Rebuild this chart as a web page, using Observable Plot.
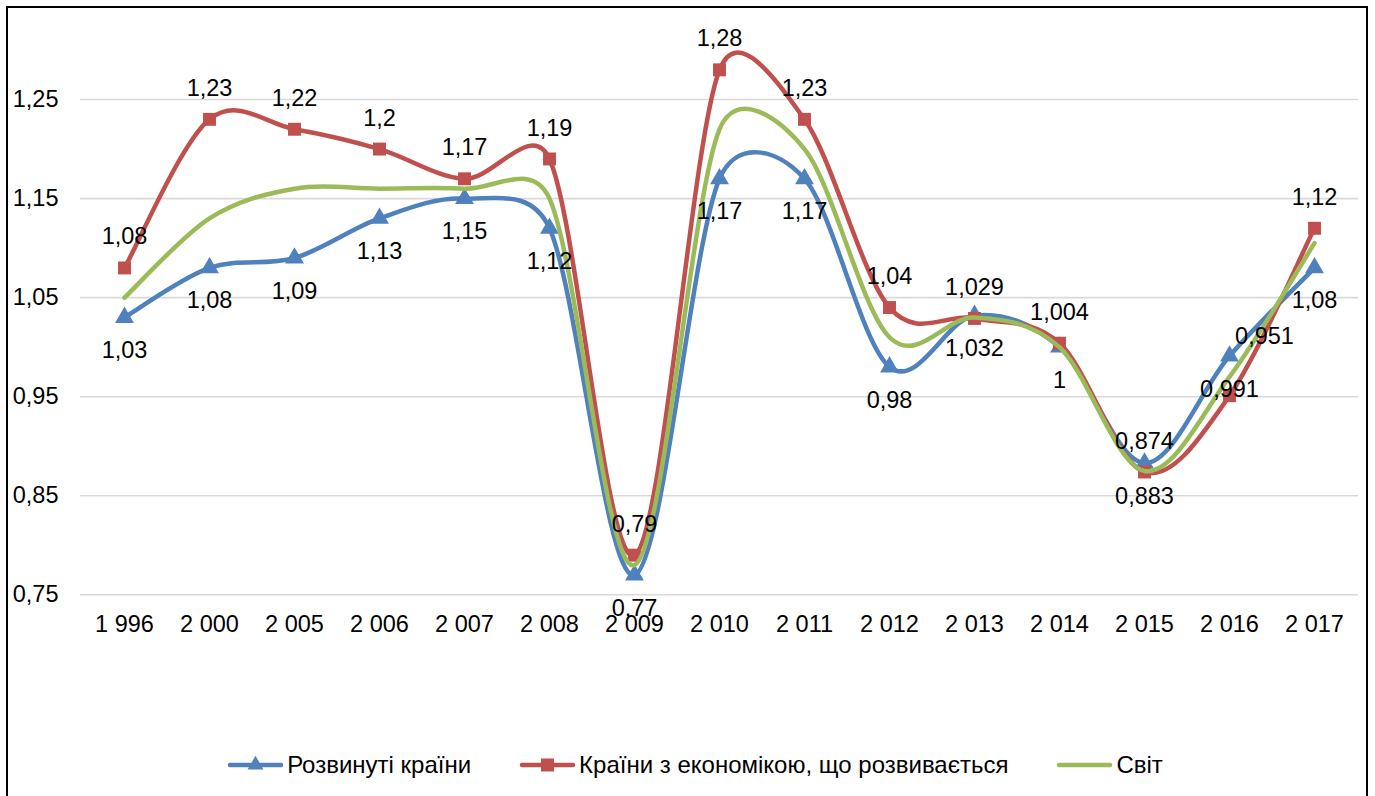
<!DOCTYPE html>
<html><head><meta charset="utf-8">
<script src="https://cdn.jsdelivr.net/npm/d3@7"></script>
<script src="https://cdn.jsdelivr.net/npm/@observablehq/plot@0.6"></script>
<style>
body{margin:0;background:#fff;font-family:"Liberation Sans",Arial,sans-serif;}
#frame{position:absolute;left:6px;top:6px;width:1358px;height:800px;border:2px solid #000;background:#fff;overflow:hidden;}
#legend{display:flex;justify-content:center;align-items:center;height:74px;font-size:24px;color:#000;padding-left:16px;}
.item{display:flex;align-items:center;margin:0 24px;}
.item svg{margin-right:3px;}
</style></head>
<body><div id="frame"><div id="chart"></div><div id="legend"></div></div>
<script>
const categories = ["1 996","2 000","2 005","2 006","2 007","2 008","2 009","2 010","2 011","2 012","2 013","2 014","2 015","2 016","2 017"];
const developed = [1.03,1.08,1.09,1.13,1.15,1.12,0.77,1.17,1.17,0.98,1.032,1,0.883,0.991,1.08];
const emerging  = [1.08,1.23,1.22,1.2,1.17,1.19,0.79,1.28,1.23,1.04,1.029,1.004,0.874,0.951,1.12];
const world     = [1.05,1.13,1.16,1.16,1.16,1.15,0.78,1.22,1.2,1.01,1.03,1.0,0.875,0.97,1.105];
const seriesNames = ["Розвинуті країни","Країни з економікою, що розвивається","Світ"];
const yTicks = [0.75,0.85,0.95,1.05,1.15,1.25];

const colors = ["#4f81bd","#c0504d","#9bbb59"];
const fmt = v => String(v).replace(".", ",");
const rows = s => categories.map((c,i)=>({c, v:s[i]}));
const dev = rows(developed), em = rows(emerging), wo = rows(world);
const font = '"Liberation Sans", Arial, sans-serif';
const FS = 23.5;

// Spreadsheet-style smoothing: Bezier with control handles (P[i+1]-P[i-1])/6, capped at half the segment length
function SmoothCurve(context){ this._context = context; }
SmoothCurve.prototype = {
  areaStart(){}, areaEnd(){},
  lineStart(){ this._pts = []; },
  point(x, y){ this._pts.push([+x, +y]); },
  lineEnd(){
    const p = this._pts, n = p.length, c = this._context;
    if (!n) return;
    c.moveTo(p[0][0], p[0][1]);
    for (let i = 0; i < n - 1; i++) {
      const P0 = p[i-1] || p[i], P1 = p[i], P2 = p[i+1], P3 = p[i+2] || p[i+1];
      const d12 = Math.hypot(P2[0]-P1[0], P2[1]-P1[1]);
      let ax = (P2[0]-P0[0])/6, ay = (P2[1]-P0[1])/6;
      let bx = (P3[0]-P1[0])/6, by = (P3[1]-P1[1])/6;
      const la = Math.hypot(ax, ay), lb = Math.hypot(bx, by);
      if (la > d12/2) { ax *= d12/2/la; ay *= d12/2/la; }
      if (lb > d12/2) { bx *= d12/2/lb; by *= d12/2/lb; }
      c.bezierCurveTo(P1[0]+ax, P1[1]+ay, P2[0]-bx, P2[1]-by, P2[0], P2[1]);
    }
  }
};
const curve = ctx => new SmoothCurve(ctx);

const chart = Plot.plot({
  width:1358, height:720,
  marginLeft:72, marginRight:8, marginTop:11.8, marginBottom:133.7,
  style:{fontFamily:font, fontSize:FS+"px", color:"#000", background:"transparent", overflow:"visible"},
  x:{type:"point", domain:categories, padding:0.5, label:null},
  y:{domain:[0.75,1.33], label:null},
  marks:[
    Plot.ruleY(yTicks, {stroke:"#d9d9d9", strokeWidth:1.6}),
    Plot.axisY(yTicks, {tickSize:0, tickPadding:22, tickFormat:fmt, fontSize:FS, label:null}),
    Plot.axisX({tickSize:0, tickPadding:21, fontSize:FS, label:null}),
    Plot.lineY(dev, {x:"c", y:"v", stroke:colors[0], strokeWidth:4.5, curve}),
    Plot.dot(dev, {x:"c", y:"v", symbol:"triangle", r:7, fill:colors[0]}),
    Plot.lineY(em, {x:"c", y:"v", stroke:colors[1], strokeWidth:4.5, curve}),
    Plot.dot(em, {x:"c", y:"v", symbol:"square", r:7.3, fill:colors[1]}),
    Plot.lineY(wo, {x:"c", y:"v", stroke:colors[2], strokeWidth:4.5, curve}),
    Plot.text(dev, {x:"c", y:"v", text:d=>fmt(d.v), dy:33, fontSize:FS, fill:"#000"}),
    Plot.text(em.filter(d=>d.c!=="2 016"), {x:"c", y:"v", text:d=>fmt(d.v), dy:-31, fontSize:FS, fill:"#000"}),
    Plot.text(em.filter(d=>d.c==="2 016"), {x:"c", y:"v", text:d=>fmt(d.v), dx:35, dy:-59, fontSize:FS, fill:"#000"})
  ]
});
document.getElementById("chart").appendChild(chart);

const legend = d3.select("#legend");
const syms = [d3.symbolTriangle, d3.symbolSquare, null];
const sizes = [110, 169, 0];
seriesNames.forEach((name,i)=>{
  const it = legend.append("div").attr("class","item");
  const svg = it.append("svg").attr("width",57).attr("height",24);
  svg.append("line").attr("x1",3).attr("x2",54).attr("y1",12).attr("y2",12)
    .attr("stroke",colors[i]).attr("stroke-width",4.5).attr("stroke-linecap","round");
  if (syms[i]) svg.append("path").attr("d", d3.symbol(syms[i], sizes[i])()).attr("transform","translate(28.5,12)").attr("fill",colors[i]);
  it.append("span").text(name);
});
</script>
</body></html>
